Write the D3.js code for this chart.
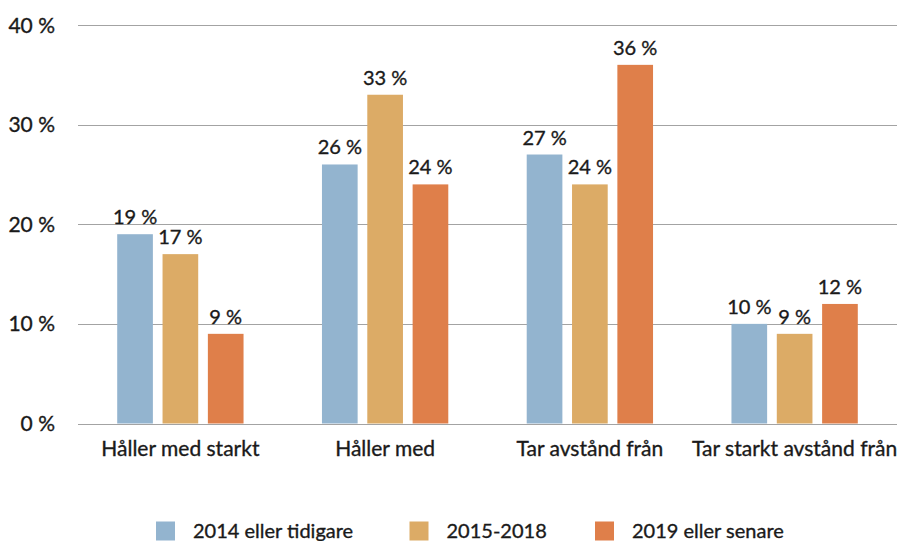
<!DOCTYPE html>
<html><head><meta charset="utf-8">
<script src="https://cdn.jsdelivr.net/npm/d3@7"></script>
<style>
html,body{margin:0;padding:0;background:#fff;}
svg{display:block;font-family:Lato,"Noto Sans",sans-serif;}
svg text{stroke:#1a1a1a;stroke-width:0.35px;}
</style></head>
<body>
<svg id="c" width="901" height="541"></svg>
<script>
const categories = ["Håller med starkt", "Håller med", "Tar avstånd från", "Tar starkt avstånd från"];
const seriesNames = ["2014 eller tidigare", "2015-2018", "2019 eller senare"];
const s2014 = [19, 26, 27, 10];
const s2015 = [17, 33, 24, 9];
const s2019 = [9, 24, 36, 12];
const yTicks = [0, 10, 20, 30, 40];
const colors = ["#93b4cf", "#dcab66", "#df7f4a"];

const series = [s2014, s2015, s2019];
const svg = d3.select("#c");
const x0 = d3.scaleBand().domain(categories).range([78, 897]).paddingInner(0.383).paddingOuter(0.1915);
const x1 = d3.scaleBand().domain(seriesNames).range([0, x0.bandwidth()]).paddingInner(0.213).paddingOuter(0);
const y = d3.scaleLinear().domain([0, 40]).range([423.5, 25]);

// gridlines
svg.append("g").selectAll("line").data(yTicks).join("line")
  .attr("x1", 78).attr("x2", 897)
  .attr("y1", d => Math.round(y(d)) + 0.5).attr("y2", d => Math.round(y(d)) + 0.5)
  .attr("stroke", "#a3a3a3").attr("stroke-width", 1);

// y tick labels
svg.append("g").selectAll("text").data(yTicks).join("text")
  .attr("x", 55).attr("y", d => y(d) + 7.5)
  .attr("text-anchor", "end").attr("font-size", 21).attr("fill", "#1a1a1a")
  .text(d => d + " %");

// bars
const groups = svg.append("g").selectAll("g").data(categories).join("g")
  .attr("transform", d => `translate(${x0(d)},0)`);
groups.each(function(cat, ci) {
  const g = d3.select(this);
  const rows = seriesNames.map((s, si) => ({s, si, v: series[si][ci]}));
  g.selectAll("rect").data(rows).join("rect")
    .attr("x", d => x1(d.s)).attr("width", x1.bandwidth())
    .attr("y", d => y(d.v)).attr("height", d => y(0) - y(d.v))
    .attr("fill", d => colors[d.si]);
  g.selectAll("text").data(rows).join("text")
    .attr("x", d => x1(d.s) + x1.bandwidth() / 2)
    .attr("y", d => y(d.v) - 10)
    .attr("text-anchor", "middle").attr("font-size", 20).attr("fill", "#1a1a1a")
    .text(d => d.v + " %");
});

// category labels
svg.append("g").selectAll("text").data(categories).join("text")
  .attr("x", d => x0(d) + x0.bandwidth() / 2).attr("y", 455.5)
  .attr("text-anchor", "middle").attr("font-size", 21).attr("fill", "#1a1a1a")
  .text(d => d);

// legend
const legendX = [156, 409.5, 595];
const lg = svg.append("g").selectAll("g").data(seriesNames).join("g")
  .attr("transform", (d, i) => `translate(${legendX[i]},521.5)`);
lg.append("rect").attr("width", 19).attr("height", 19).attr("fill", (d, i) => colors[i]);
lg.append("text").attr("x", 37).attr("y", 16.5).attr("font-size", 20).attr("fill", "#1a1a1a").text(d => d);
</script>
</body></html>
